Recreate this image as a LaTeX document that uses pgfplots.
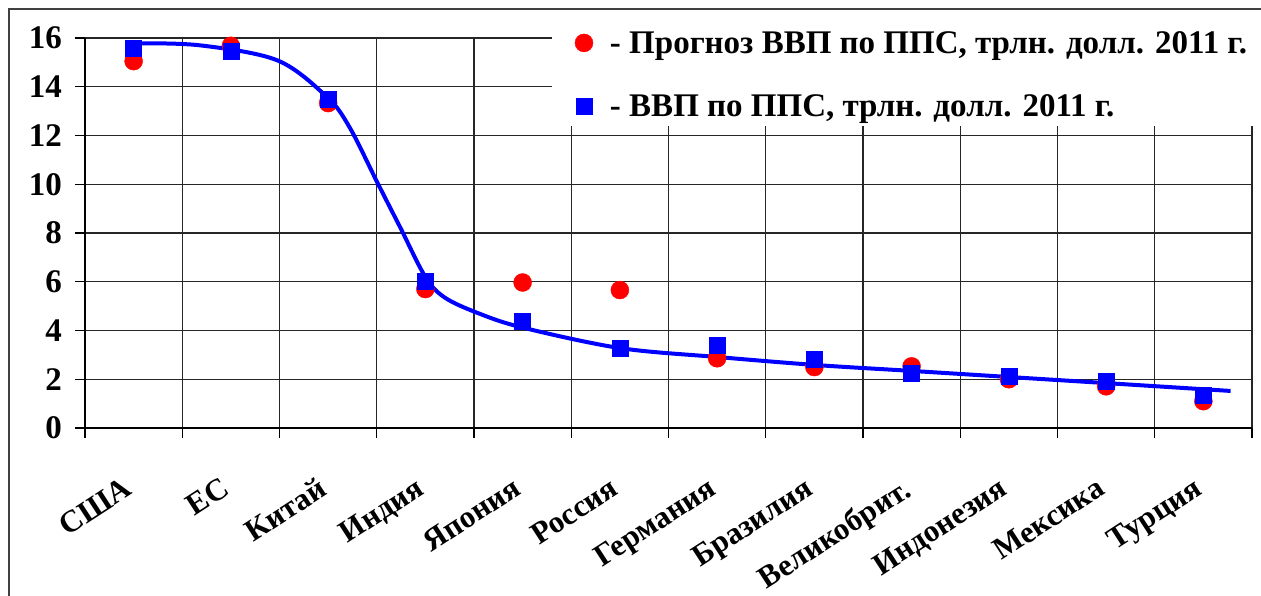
\documentclass[border=0pt]{standalone}
\usepackage{fontspec}
\setmainfont{Liberation Serif}
\usepackage{pgfplots}
\pgfplotsset{compat=1.18}
\begin{document}
\begin{tikzpicture}[x=1pt,y=1pt]
\useasboundingbox (-85,-167) rectangle (1176,428);
\draw[line width=1.5pt, black!75] (-76,-180) rectangle (1200,419);
\begin{axis}[
 at={(0,0)}, anchor=south west,
 scale only axis, width=1167pt, height=390pt,
 xmin=-0.5, xmax=11.5, ymin=0, ymax=16,
 xtick={0,...,11},
 xticklabels={США,ЕС,Китай,Индия,Япония,Россия,Германия,Бразилия,Великобрит.,Индонезия,Мексика,Турция},
 minor xtick={-0.5,0.5,1.5,2.5,3.5,4.5,5.5,6.5,7.5,8.5,9.5,10.5,11.5},
 ytick={0,2,...,16},
 xmajorgrids=false, ymajorgrids=true, xminorgrids=true,
 grid style={line width=1.1pt, black!85},
 minor grid style={line width=1.1pt, black!85},
 major x tick style={draw=none},
 tick align=outside,
 major tick length=10pt, minor tick length=10pt,
 tick style={line width=1.1pt, black},
 axis x line*=bottom, axis y line*=left,
 axis line style={-, line width=2.2pt, black},
 /pgf/number format/assume math mode=true,
 yticklabel style={font=\fontsize{33}{33}\selectfont\bfseries, inner sep=0pt, xshift=-13pt},
 xticklabel style={font=\fontsize{31}{31}\selectfont\bfseries, xshift=-11pt, yshift=-38pt, rotate=33, anchor=north east, inner sep=0pt},
 legend style={at={(rel axis cs:0.4,1)}, anchor=north west, yshift=15pt, draw=none, fill=white,
   font=\fontsize{33}{33}\selectfont\bfseries, row sep=36pt, inner ysep=6pt, inner xsep=23pt},
 legend cell align=left,
 clip=false,
]
\addplot[only marks, mark=*, mark size=9pt, color=red, mark options={fill=red, draw=red}]
 coordinates {(0,15.05) (1,15.68) (2,13.33) (3,5.7) (4,5.97) (5,5.66) (6,2.86) (7,2.5) (8,2.53) (9,2.0) (10,1.71) (11,1.1)};
\addlegendentry{\hspace{15pt}- Прогноз ВВП по ППС, трлн. долл. 2011 г.}
\addplot[only marks, mark=square*, mark size=8pt, color=blue, mark options={fill=blue, draw=blue}]
 coordinates {(0,15.57) (1,15.45) (2,13.5) (3,6.03) (4,4.38) (5,3.27) (6,3.4) (7,2.82) (8,2.25) (9,2.12) (10,1.92) (11,1.35)};
\addlegendentry{\hspace{15pt}- ВВП по ППС, трлн. долл. 2011 г.}
\addplot[forget plot, blue, line width=4pt, smooth, tension=0.55]
 coordinates {(0,15.78) (0.68,15.7) (1.48,15.08) (1.99,13.57) (2.22,12.34) (2.51,10.04) (2.74,8.24) (3.0,6.2) (3.2,5.35) (3.55,4.7) (4.0,4.12) (5,3.28) (6.01,2.91) (7.03,2.58) (8.01,2.34) (9.01,2.09) (10.01,1.84) (11.28,1.52)};
\end{axis}
\end{tikzpicture}
\end{document}
